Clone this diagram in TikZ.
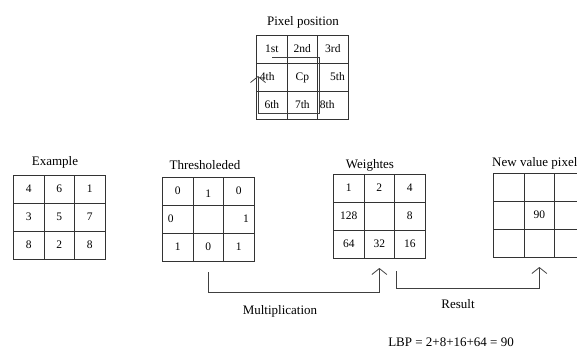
\documentclass[tikz,border=0pt]{standalone}
\usepackage{fontspec}
\setmainfont{Liberation Serif}
\usetikzlibrary{matrix,arrows.meta}

\tikzset{
  gridline/.style={draw=black!80, line width=0.8pt},
  cell/.style={gridline, minimum width=30.5pt, minimum height=28pt,
               text height=8pt, text depth=2pt,
               inner sep=0pt, font=\fontsize{11.5}{13}\selectfont},
  grid3/.style={matrix of nodes, nodes in empty cells, nodes={cell},
                anchor=north west, column sep=-0.8pt, row sep=-0.8pt,
                inner sep=0pt},
  title/.style={font=\fontsize{13}{15}\selectfont, inner sep=0pt},
  flow/.style={draw=black!75, line width=0.8pt},
  barb/.style={-{Straight Barb[length=6pt,width=15pt,line width=0.8pt]}}
}

\begin{document}
\begin{tikzpicture}[x=1pt, y=-1pt]
\useasboundingbox (0,0) rectangle (577,352);

% Neighbourhood numbering
\node[title] (tpos) at (303,22) {Pixel position};
\matrix (pos) [grid3] at (256,35) {
  1st & 2nd & 3rd \\
  \makebox[24pt][l]{4th} & Cp & \makebox[24pt][r]{5th} \\
  6th & 7th & \makebox[26pt][l]{8th} \\
};
\coordinate (s0) at (272,57);
\coordinate (s1) at (319,57);
\coordinate (s2) at (319,113);
\coordinate (s3) at (258,113);
\coordinate (s4) at (258,76);
\draw[flow, barb, line width=0.6pt] (s0) -- (s1) -- (s2) -- (s3) -- (s4);

% Sample neighbourhood
\node[title] (tex) at (55,162) {Example};
\matrix (ex) [grid3] at (13,175) {
  4 & 6 & 1 \\
  3 & 5 & 7 \\
  8 & 2 & 8 \\
};

% Thresholded values
\node[title] (tth) at (205,165) {Thresholeded};
\matrix (th) [grid3] at (162,177) {
  0 & \raisebox{-3pt}{1} & 0 \\
  \makebox[20pt][l]{0} & & \makebox[20pt][r]{1} \\
  1 & 0 & 1 \\
};

% Binary weights
\node[title] (twt) at (370,165) {Weightes};
\matrix (wt) [grid3] at (333,174) {
  1 & 2 & 4 \\
  128 & & 8 \\
  64 & 32 & 16 \\
};

% Resulting centre value
\node[title, anchor=west] (tnv) at (492,163) {New value pixel};
\matrix (nv) [grid3] at (493,173) {
  & & \\
  & 90 & \\
  & & \\
};

% Multiplication connector
\coordinate (m0) at (th-3-2.south |- 0,272);
\coordinate (m1) at (th-3-2.south |- 0,292);
\coordinate (m2) at (wt-3-2.south |- 0,292);
\coordinate (m3) at (wt-3-2.south |- 0,268);
\draw[flow, barb] (m0) -- (m1) -- (m2) -- (m3);
\node[title] (lmul) at (280,311) {Multiplication};

% Result connector
\coordinate (r0) at (396,271);
\coordinate (r1) at (396,288);
\coordinate (r2) at (nv-3-2.south |- 0,288);
\coordinate (r3) at (nv-3-2.south |- 0,267);
\draw[flow, barb] (r0) -- (r1) -- (r2) -- (r3);
\node[title] (lres) at (458,304) {Result};

\node[title] (lbp) at (451,342) {LBP = 2+8+16+64 = 90};
\end{tikzpicture}
\end{document}
